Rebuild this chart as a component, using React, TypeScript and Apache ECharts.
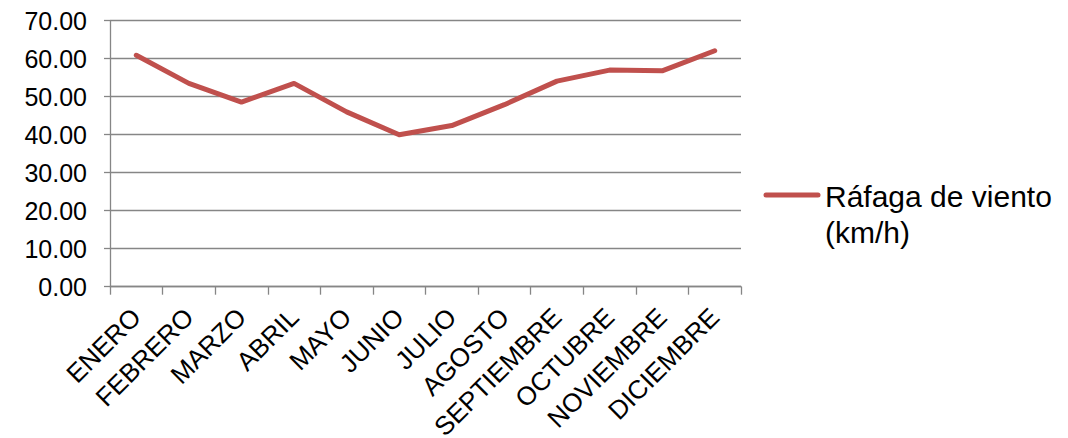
import React, { useEffect, useRef } from "react";
import * as echarts from "echarts";

// Monthly wind gust (km/h)
const months = [
  "ENERO", "FEBRERO", "MARZO", "ABRIL", "MAYO", "JUNIO",
  "JULIO", "AGOSTO", "SEPTIEMBRE", "OCTUBRE", "NOVIEMBRE", "DICIEMBRE",
];
const gust = [60.9, 53.5, 48.6, 53.5, 46.0, 40.0, 42.4, 47.9, 54.1, 57.0, 56.8, 62.1];
const seriesName = "Ráfaga de viento (km/h)";
const legendLines = ["Ráfaga de viento", "(km/h)"];

const yMin = 0;
const yMax = 70;
const yStep = 10;

const FONT = "'Liberation Sans', Arial, sans-serif";
const GRID_GREY = "#868686";
const LINE_RED = "#C0504D";

export default function App() {
  const ref = useRef<HTMLDivElement>(null);

  useEffect(() => {
    document.body.style.margin = "0";
    if (!ref.current) return;
    const chart = echarts.init(ref.current, null, { renderer: "svg" });
    chart.setOption({
      animation: false,
      backgroundColor: "#ffffff",
      textStyle: { fontFamily: FONT },
      grid: {
        left: 110,
        right: 327,
        top: 20.7,
        bottom: 151.3,
        containLabel: false,
        outerBoundsMode: "none",
      },
      xAxis: {
        type: "category",
        data: months,
        boundaryGap: true,
        axisLine: { show: true, lineStyle: { color: GRID_GREY, width: 1.3 } },
        axisTick: { show: true, length: 8, alignWithLabel: false, lineStyle: { color: GRID_GREY, width: 1.3 } },
        axisLabel: {
          interval: 0,
          rotate: 45,
          margin: 26,
          color: "#000000",
          fontSize: 26,
          fontFamily: FONT,
        },
        splitLine: { show: false },
      },
      yAxis: {
        type: "value",
        min: yMin,
        max: yMax,
        interval: yStep,
        axisLine: { show: true, lineStyle: { color: GRID_GREY, width: 1.3 } },
        axisTick: { show: true, length: 6, lineStyle: { color: GRID_GREY, width: 1.3 } },
        axisLabel: {
          margin: 23,
          color: "#000000",
          fontSize: 25,
          fontFamily: FONT,
          formatter: (v: number) => v.toFixed(2),
        },
        splitLine: { show: true, lineStyle: { color: GRID_GREY, width: 1.3 } },
      },
      legend: { show: false },
      series: [
        {
          name: seriesName,
          type: "line",
          data: gust,
          showSymbol: false,
          symbol: "none",
          lineStyle: { color: LINE_RED, width: 5, cap: "round", join: "round" },
          itemStyle: { color: LINE_RED },
        },
      ],
      graphic: [
        {
          type: "line",
          shape: { x1: 766, y1: 195, x2: 818, y2: 195 },
          style: { stroke: LINE_RED, lineWidth: 5, lineCap: "round" },
        },
        {
          type: "text",
          x: 825,
          y: 178,
          style: {
            text: legendLines.join("\n"),
            font: `30px ${FONT}`,
            fill: "#000000",
            lineHeight: 36,
            verticalAlign: "top",
            align: "left",
          },
        },
      ],
    });
    return () => chart.dispose();
  }, []);

  return <div ref={ref} style={{ width: 1068, height: 438 }} />;
}
